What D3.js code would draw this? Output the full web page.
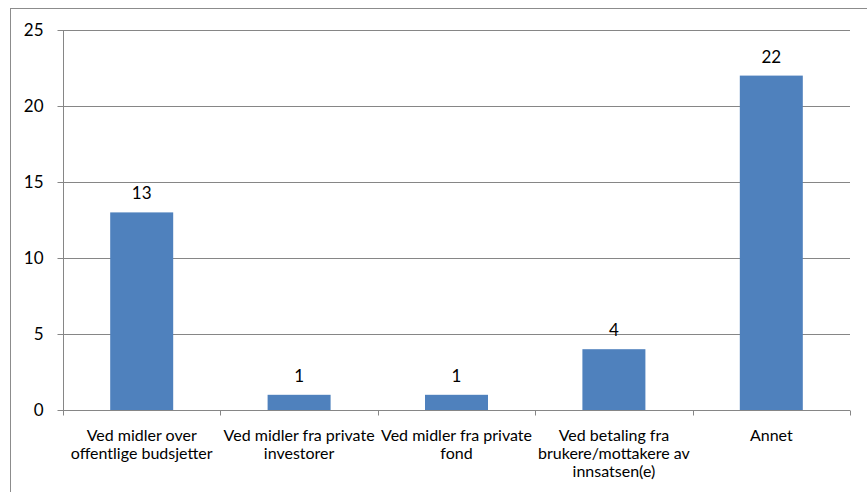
<!DOCTYPE html>
<html><head><meta charset="utf-8">
<script src="https://cdn.jsdelivr.net/npm/d3@7"></script>
<style>body{margin:0;background:#fff}svg{display:block}</style>
</head><body>
<script>
const categories = [
  ["Ved midler over", "offentlige budsjetter"],
  ["Ved midler fra private", "investorer"],
  ["Ved midler fra private", "fond"],
  ["Ved betaling fra", "brukere/mottakere av", "innsatsen(e)"],
  ["Annet"]
];
const values = [13, 1, 1, 4, 22];
const yTicks = [0, 5, 10, 15, 20, 25];

const W = 867, H = 492;
const m = {left: 63, right: 17, top: 30, bottom: 82};
const svg = d3.select("body").append("svg").attr("width", W).attr("height", H);
const font = "Lato, 'Open Sans', sans-serif";

svg.append("rect").attr("x", 10.5).attr("y", 8.5).attr("width", 870).attr("height", 500)
  .attr("fill", "none").attr("stroke", "#8c8c8c").attr("stroke-width", 1);

const x = d3.scaleBand().domain(d3.range(values.length)).range([m.left, W - m.right]).paddingInner(0).paddingOuter(0);
const y = d3.scaleLinear().domain([0, 25]).range([H - m.bottom, m.top]);

const g = svg.append("g");
g.selectAll(".grid").data(yTicks.filter(d => d > 0)).enter().append("line")
  .attr("x1", m.left).attr("x2", W - m.right)
  .attr("y1", d => Math.round(y(d)) + 0.5).attr("y2", d => Math.round(y(d)) + 0.5)
  .attr("stroke", "#868686").attr("stroke-width", 1);

const bw = 63;
g.selectAll(".bar").data(values).enter().append("rect")
  .attr("x", (d, i) => x(i) + x.bandwidth() / 2 - bw / 2)
  .attr("y", d => y(d)).attr("width", bw).attr("height", d => y(0) - y(d))
  .attr("fill", "#4f81bd");

g.selectAll(".vl").data(values).enter().append("text")
  .attr("x", (d, i) => x(i) + x.bandwidth() / 2).attr("y", d => y(d) - 13)
  .attr("text-anchor", "middle").attr("font-family", font).attr("font-size", 17).attr("fill", "#000")
  .text(d => d);

const ya = svg.append("g").attr("transform", `translate(${m.left + 0.5},0)`)
  .call(d3.axisLeft(y).tickValues(yTicks).tickSize(6).tickPadding(14));
ya.select(".domain").attr("stroke", "#868686").attr("d", `M0,${m.top}V${y(0)}`);
ya.selectAll(".tick line").attr("stroke", "#868686");
ya.selectAll(".tick text").attr("font-family", font).attr("font-size", 17).attr("fill", "#000");

const xa = svg.append("g").attr("transform", `translate(0,${Math.round(y(0)) + 0.5})`);
xa.append("line").attr("x1", m.left).attr("x2", W - m.right).attr("stroke", "#868686");
const bounds = d3.range(values.length + 1).map(i => m.left + i * x.bandwidth());
xa.selectAll(".xt").data(bounds).enter().append("line")
  .attr("x1", d => Math.round(d) + 0.5).attr("x2", d => Math.round(d) + 0.5)
  .attr("y1", 0).attr("y2", 5).attr("stroke", "#868686");
const lab = xa.selectAll(".xl").data(categories).enter().append("text")
  .attr("text-anchor", "middle").attr("font-family", font).attr("font-size", 16).attr("fill", "#000")
  .attr("transform", (d, i) => `translate(${x(i) + x.bandwidth() / 2},30)`);
lab.selectAll("tspan").data(d => d).enter().append("tspan")
  .attr("x", 0).attr("dy", (d, i) => i === 0 ? 0 : 18).text(d => d);
</script>
</body></html>
